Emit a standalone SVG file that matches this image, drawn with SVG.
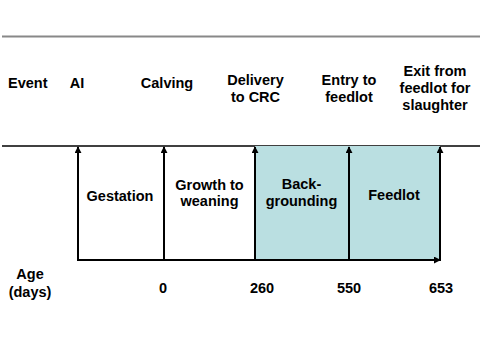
<svg xmlns="http://www.w3.org/2000/svg" width="480" height="361" viewBox="0 0 480 361">
<style>
text{font-family:"Liberation Sans",Arial,sans-serif;font-weight:bold;font-size:14.5px;fill:#000}
.c{text-anchor:middle}
.ax{stroke:#000;stroke-width:2;fill:none}
</style>
<defs>
<marker id="ah" viewBox="0 0 8 8" refX="7" refY="4" markerWidth="7" markerHeight="7" markerUnits="userSpaceOnUse" orient="auto">
<path d="M0,0 L8,4 L0,8 z" fill="#000"/>
</marker>
</defs>
<rect width="480" height="361" fill="#fff"/>
<line x1="2" y1="36.5" x2="480" y2="36.5" stroke="#888" stroke-width="2"/>
<line x1="2" y1="146" x2="480" y2="146" stroke="#000" stroke-width="1.5"/>
<g id="shade">
<rect x="255" y="146" width="185" height="114" fill="#badfe1"/>
</g>
<g id="connectors">
<line class="ax" x1="78" y1="260" x2="78" y2="147" marker-end="url(#ah)"/>
<line class="ax" x1="164" y1="260" x2="164" y2="147" marker-end="url(#ah)"/>
<line class="ax" x1="255" y1="260" x2="255" y2="147" marker-end="url(#ah)"/>
<line class="ax" x1="349" y1="260" x2="349" y2="147" marker-end="url(#ah)"/>
<line class="ax" x1="440" y1="261" x2="440" y2="147" marker-end="url(#ah)"/>
<line class="ax" x1="77" y1="260" x2="440" y2="260" marker-end="url(#ah)"/>
</g>
<g id="events">
<text x="8" y="88">Event</text>
<text class="c" x="77" y="88">AI</text>
<text class="c" x="167" y="88">Calving</text>
<text class="c" x="255.5" y="84.5">Delivery<tspan x="255.5" y="101.5">to CRC</tspan></text>
<text class="c" x="349" y="84.5">Entry to<tspan x="349" y="101.5">feedlot</tspan></text>
<text class="c" x="435" y="76">Exit from<tspan x="435" y="93">feedlot for</tspan><tspan x="435" y="110">slaughter</tspan></text>
</g>
<g id="phases">
<text class="c" x="120" y="201">Gestation</text>
<text class="c" x="209.5" y="189.5">Growth to<tspan x="209.5" y="206">weaning</tspan></text>
<text class="c" x="301.5" y="189">Back-<tspan x="301.5" y="206">grounding</tspan></text>
<text class="c" x="394" y="200">Feedlot</text>
</g>
<g id="ages">
<text class="c" x="30" y="279">Age<tspan x="30" y="296.5">(days)</tspan></text>
<text class="c" x="163" y="293">0</text>
<text class="c" x="262" y="293">260</text>
<text class="c" x="349" y="293">550</text>
<text class="c" x="441" y="293">653</text>
</g>
</svg>
